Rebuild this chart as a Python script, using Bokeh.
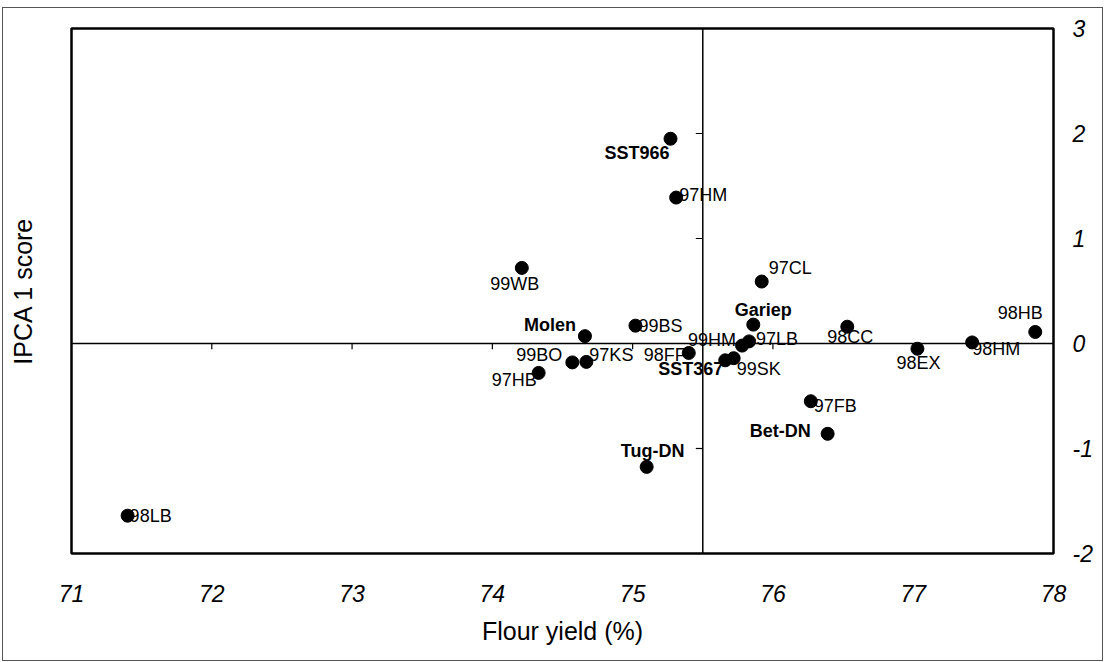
from bokeh.plotting import figure
from bokeh.models import (ColumnDataSource, LinearAxis, FixedTicker, Span)
from bokeh.core.properties import value
from bokeh.embed import file_html
from bokeh.resources import INLINE

# ---- data ----
names = ["SST966", "97HM", "99WB", "97CL", "Gariep", "99BS", "Molen", "98CC",
         "98HB", "98HM", "98EX", "99HM", "97LB", "SST367", "99SK", "98FF",
         "99BO", "97KS", "97HB", "97FB", "Bet-DN", "Tug-DN", "98LB"]
flour_yield = [75.27, 75.31, 74.21, 75.92, 75.86, 75.02, 74.66, 76.53,
               77.87, 77.42, 77.03, 75.78, 75.83, 75.66, 75.72, 75.40,
               74.57, 74.67, 74.33, 76.27, 76.39, 75.10, 71.40]
ipca1 = [1.95, 1.39, 0.72, 0.59, 0.18, 0.17, 0.07, 0.16,
         0.11, 0.01, -0.05, -0.02, 0.02, -0.16, -0.14, -0.09,
         -0.18, -0.175, -0.28, -0.55, -0.86, -1.175, -1.64]
cultivars = ["SST966", "SST367", "Gariep", "Molen", "Tug-DN", "Bet-DN"]
x_ticks = [71, 72, 73, 74, 75, 76, 77, 78]
x_tick_labels = ["71", "72", "73", "74", "75", "76", "77", "78"]
y_ticks = [-2, -1, 0, 1, 2, 3]
y_tick_labels = ["-2", "-1", "0", "1", "2", "3"]
x_cross = 75.5
y_cross = 0

# ---- label styles (screen offsets) ----
label_align = ["right", "left", "center", "left", "center", "left", "right", "center",
               "center", "left", "center", "right", "left", "right", "left", "right",
               "right", "left", "right", "left", "right", "center", "left"]
label_dx = [-1, 3, -7, 7, 10, 3, -9, 3,
            -15, 0, 1, -6, 7, -2, 3, -3,
            -10, 3, -2, 3, -17, 6, 2]
label_dy = [14, -3, 16, -14, -15, 0, -11, 10,
            -19, 7, 14, -6, -2, 9, 11, 2,
            -7, -7, 7, 5, -3, -16, 0]
label_style = ["bold" if n in cultivars else "normal" for n in names]

src = ColumnDataSource(dict(x=flour_yield, y=ipca1, name=names, align=label_align,
                            dx=label_dx, dy=label_dy, fs=label_style))

# canvas placed at (3, 8) inside the 1105x662 window, with a thin outline round it
p = figure(width=1099, height=652, x_range=(71, 78), y_range=(-2, 3),
           output_backend="svg", toolbar_location=None,
           x_axis_location="below", y_axis_location="right",
           min_border_left=68, min_border_right=49, min_border_top=20, min_border_bottom=107,
           margin=(8, 0, 0, 3),
           styles={"outline": "1px solid #555555"})
p.xgrid.visible = False
p.ygrid.visible = False
p.background_fill_color = "white"
p.border_fill_color = "white"
p.outline_line_color = "black"
p.outline_line_width = 2.5

FONT = "Liberation Sans"

# bottom axis
xa = p.xaxis[0]
xa.ticker = FixedTicker(ticks=x_ticks)
xa.major_label_overrides = {t: s for t, s in zip(x_ticks, x_tick_labels)}
xa.axis_line_color = None
xa.major_tick_line_color = None
xa.minor_tick_line_color = None
xa.major_tick_out = 0
xa.major_label_standoff = 31
xa.major_label_text_font = FONT
xa.major_label_text_font_style = "italic"
xa.major_label_text_font_size = "23px"
xa.major_label_text_color = "black"
xa.axis_label = "Flour yield (%)"
xa.axis_label_text_font = FONT
xa.axis_label_text_font_style = "normal"
xa.axis_label_text_font_size = "25px"
xa.axis_label_text_color = "black"
xa.axis_label_standoff = 12

# right axis
ya = p.yaxis[0]
ya.ticker = FixedTicker(ticks=y_ticks)
ya.major_label_overrides = {t: s for t, s in zip(y_ticks, y_tick_labels)}
ya.axis_line_color = None
ya.major_tick_line_color = None
ya.minor_tick_line_color = None
ya.major_tick_out = 0
ya.major_label_standoff = 19
ya.major_label_text_font = FONT
ya.major_label_text_font_style = "italic"
ya.major_label_text_font_size = "23px"
ya.major_label_text_color = "black"

# left axis for title only
la = LinearAxis(ticker=FixedTicker(ticks=[]), axis_label="IPCA 1 score")
la.axis_line_color = None
la.major_tick_line_color = None
la.minor_tick_line_color = None
la.major_label_text_font_size = "0px"
la.axis_label_text_font = FONT
la.axis_label_text_font_style = "normal"
la.axis_label_text_font_size = "25px"
la.axis_label_text_color = "black"
la.axis_label_standoff = 35
p.add_layout(la, "left")

# crosshair lines
p.add_layout(Span(location=x_cross, dimension="height", line_color="black", line_width=1.5))
p.add_layout(Span(location=y_cross, dimension="width", line_color="black", line_width=1.5))

# small ticks on the crosshair lines
xt = [t for t in x_ticks if 71 < t < 78]
p.segment(x0=xt, y0=[y_cross] * len(xt), x1=xt, y1=[y_cross - 0.055] * len(xt),
          line_color="black", line_width=1.2)
yt = [t for t in y_ticks if -2 < t < 3 and t != y_cross]
p.segment(x0=[x_cross] * len(yt), y0=yt, x1=[x_cross - 0.05] * len(yt), y1=yt,
          line_color="black", line_width=1.2)

# points
p.scatter("x", "y", source=src, size=13, fill_color="black", line_color="black")

# labels
p.text("x", "y", text="name", source=src, text_align="align", text_baseline="middle",
       x_offset="dx", y_offset="dy", text_font=value(FONT), text_font_size="18px",
       text_font_style="fs", text_color="black")

open("out.html", "w").write(file_html(p, INLINE))
